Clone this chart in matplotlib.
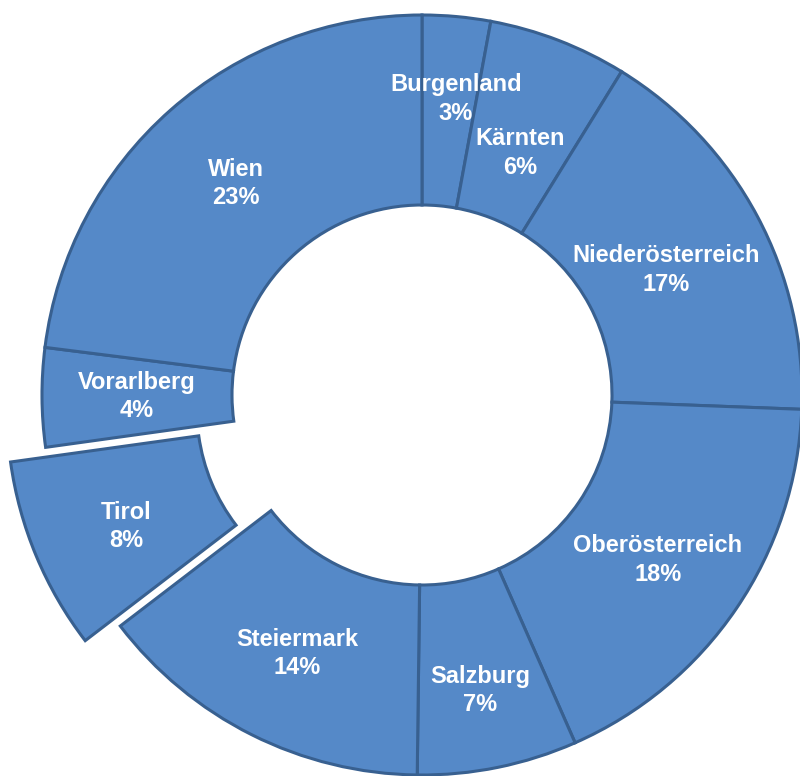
import matplotlib
matplotlib.use("Agg")
import matplotlib.pyplot as plt

regions = ["Burgenland", "Kärnten", "Niederösterreich", "Oberösterreich",
           "Salzburg", "Steiermark", "Tirol", "Vorarlberg", "Wien"]
shares = [2.9, 5.9, 16.8, 17.8, 6.8, 14.4, 8.2, 4.2, 23.0]
explode = [0, 0, 0, 0, 0, 0, 0.1, 0, 0]

# label nudges in pixels (x right, y down), like the reference layout
nudges = {"Burgenland": (8, -12), "Kärnten": (-4, 24), "Niederösterreich": (-7, 9),
          "Oberösterreich": (0, 5), "Salzburg": (1, 16), "Steiermark": (3, 4),
          "Tirol": (2, 7), "Wien": (2, 2)}

plt.rcParams['font.family'] = ['Liberation Sans', 'DejaVu Sans']

fig = plt.figure(figsize=(8, 7.76), dpi=100)
ax = fig.add_axes([0, 0, 1, 1])

total = sum(shares)
labels = [f"{r}\n{round(v / total * 100):.0f}%" for r, v in zip(regions, shares)]

wedges, texts = ax.pie(shares, startangle=90, counterclock=False, explode=explode,
                       colors=['#5589C8'] * len(shares), radius=1.0,
                       wedgeprops=dict(width=0.5, edgecolor='#386090', linewidth=2.2,
                                       joinstyle='miter'),
                       labels=labels, labeldistance=0.75,
                       textprops=dict(color='white', fontsize=17, fontweight='bold',
                                      ha='center', va='center', linespacing=1.3))
cx, cy, R = 422, 381, 380
for t, r in zip(texts, regions):
    t.set_horizontalalignment('center')
    t.set_verticalalignment('center')
    dx, dy = nudges.get(r, (0, 0))
    x, y = t.get_position()
    t.set_position((x + dx / R, y - dy / R))

ax.set_xlim(-cx / R, (800 - cx) / R)
ax.set_ylim(-cy / R, (776 - cy) / R)
ax.set_axis_off()

fig.savefig("out.png", dpi=100)
